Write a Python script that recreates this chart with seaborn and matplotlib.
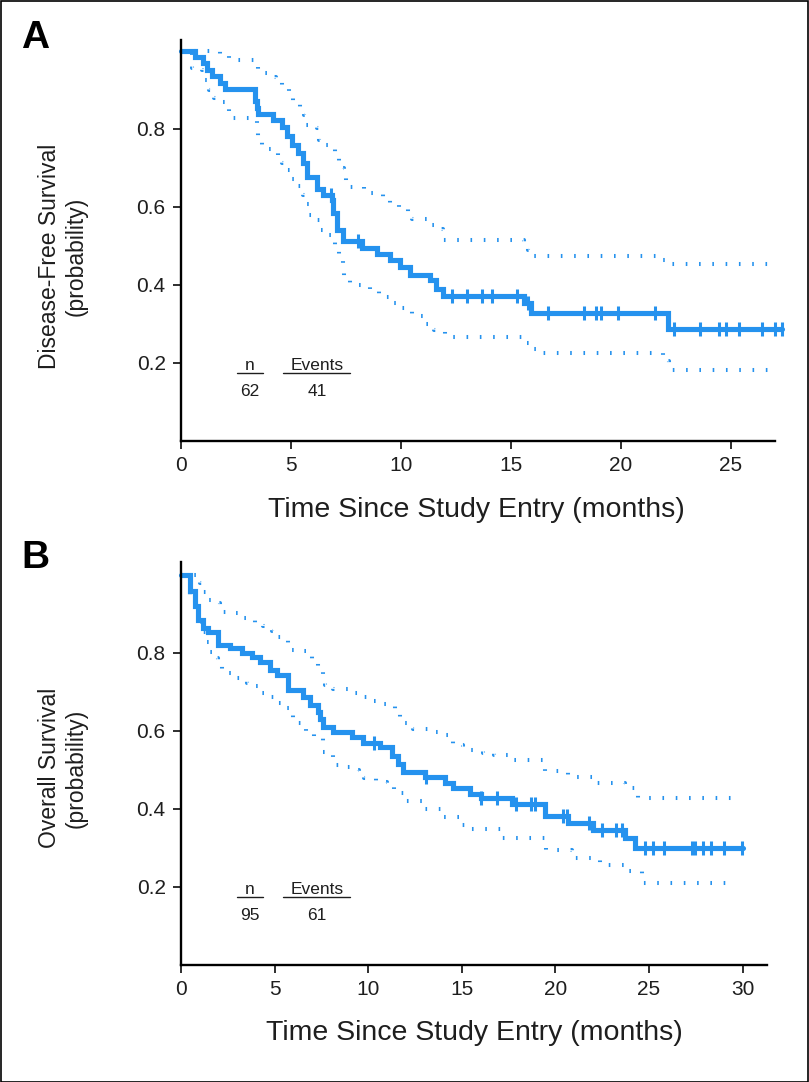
import numpy as np
import pandas as pd
import matplotlib
matplotlib.use("Agg")
import matplotlib.pyplot as plt
import seaborn as sns
from matplotlib import font_manager
from matplotlib.lines import Line2D
from matplotlib.patches import Rectangle

# ---------------- Panel A: disease-free survival ----------------
a_time = [0, 0.64, 1.01, 1.17, 1.39, 1.77, 2.0, 3.36, 3.45, 3.5, 4.2, 4.58, 4.8, 5.03, 5.33, 5.56, 5.74,
          6.17, 6.47, 6.85, 6.92, 7.1, 7.38, 8.21, 8.89, 9.5, 9.95, 10.4, 11.3, 11.6, 11.9, 15.6, 15.9,
          22.15, 27.3]
a_surv = [1.0, 0.984, 0.968, 0.952, 0.935, 0.919, 0.903, 0.871, 0.855, 0.839, 0.823, 0.806, 0.782, 0.760,
          0.738, 0.712, 0.678, 0.645, 0.631, 0.618, 0.584, 0.541, 0.514, 0.494, 0.479, 0.464, 0.447, 0.426,
          0.413, 0.39, 0.373, 0.353, 0.329, 0.287, 0.287]
a_upper_time = [0, 1.77, 2.2, 3.4, 3.5, 3.9, 4.3, 4.6, 4.9, 5.1, 5.4, 5.6, 5.7, 6.2, 6.25, 6.5, 6.9, 7.0,
                7.2, 7.4, 7.5, 8.3, 9.2, 9.5, 9.9, 10.3, 10.5, 11.4, 11.7, 11.9, 15.6, 15.75, 15.9, 21.8,
                22.0, 27.0]
a_upper = [1.0, 0.99, 0.978, 0.968, 0.943, 0.934, 0.921, 0.909, 0.891, 0.872, 0.857, 0.836, 0.81, 0.802,
           0.772, 0.759, 0.748, 0.725, 0.699, 0.678, 0.652, 0.635, 0.618, 0.608, 0.597, 0.584, 0.568, 0.554,
           0.544, 0.515, 0.505, 0.49, 0.475, 0.465, 0.453, 0.453]
a_lower_time = [0, 0.5, 0.95, 1.1, 1.25, 1.5, 1.77, 2.1, 2.2, 3.47, 3.5, 3.7, 4.4, 4.6, 4.8, 5.0, 5.3, 5.55,
                5.7, 5.8, 6.2, 6.3, 6.5, 6.9, 7.0, 7.2, 7.35, 7.4, 7.7, 8.6, 9.0, 9.5, 10.0, 10.5, 11.0,
                11.5, 12.0, 15.5, 15.9, 16.3, 21.9, 22.2, 27.0]
a_lower = [1.0, 0.957, 0.951, 0.926, 0.9, 0.879, 0.868, 0.851, 0.827, 0.80, 0.772, 0.749, 0.729, 0.712,
           0.695, 0.673, 0.654, 0.631, 0.608, 0.579, 0.567, 0.541, 0.527, 0.515, 0.486, 0.464, 0.44, 0.417,
           0.40, 0.385, 0.37, 0.355, 0.34, 0.32, 0.30, 0.285, 0.267, 0.25, 0.235, 0.225, 0.205, 0.182, 0.182]
a_censor = [6.8, 8.06, 12.3, 13.0, 13.7, 14.15, 15.25, 15.75, 16.7, 18.3, 18.85, 19.1, 19.85, 21.55, 22.4,
            23.6, 24.47, 24.77, 25.35, 26.4, 27.0, 27.3]
a_n, a_events = "62", "41"

# ---------------- Panel B: overall survival ----------------
b_time = [0, 0.48, 0.75, 0.93, 1.19, 1.46, 1.99, 2.62, 3.24, 3.77, 4.22, 4.75, 5.11, 5.73, 6.53, 6.89, 7.33,
          7.45, 7.6, 8.13, 9.11, 9.73, 10.62, 11.25, 11.6, 11.87, 13.03, 14.1, 14.54, 15.43, 16.05, 17.66,
          19.43, 20.68, 22.0, 23.7, 24.24, 30.0]
b_surv = [1.0, 0.96, 0.92, 0.885, 0.865, 0.855, 0.821, 0.812, 0.80, 0.79, 0.778, 0.756, 0.744, 0.705, 0.688,
          0.667, 0.65, 0.63, 0.611, 0.598, 0.585, 0.568, 0.56, 0.535, 0.515, 0.496, 0.483, 0.466, 0.453,
          0.438, 0.427, 0.413, 0.383, 0.365, 0.346, 0.325, 0.299, 0.299]
b_upper_time = [0, 1.01, 1.19, 1.37, 1.82, 2.08, 2.62, 3.06, 3.5, 3.95, 4.4, 4.84, 5.1, 5.55, 5.73, 6.27,
                6.71, 6.98, 7.33, 7.6, 7.69, 8.13, 9.2, 9.65, 10.09, 10.5, 11.07, 11.43, 11.7, 11.96, 12.4,
                13.47, 14.0, 14.54, 15.07, 16.14, 16.7, 17.66, 19.43, 20.68, 22.1, 23.7, 24.4, 29.9]
b_upper = [1.0, 0.979, 0.957, 0.936, 0.927, 0.906, 0.902, 0.891, 0.885, 0.872, 0.87, 0.856, 0.842, 0.833,
           0.808, 0.805, 0.792, 0.778, 0.765, 0.742, 0.718, 0.707, 0.698, 0.688, 0.678, 0.669, 0.667, 0.654,
           0.637, 0.621, 0.604, 0.598, 0.59, 0.564, 0.551, 0.543, 0.538, 0.526, 0.498, 0.483, 0.466, 0.455,
           0.429, 0.429]
b_lower_time = [0, 0.5, 0.75, 0.95, 1.2, 1.37, 1.5, 1.64, 2.0, 2.17, 3.0, 3.5, 3.9, 4.3, 4.7, 5.1, 5.5, 5.9,
                6.0, 6.7, 7.1, 7.6, 8.1, 8.6, 9.1, 9.5, 9.8, 10.4, 11.0, 11.4, 12.0, 13.0, 14.0, 15.0, 15.5,
                17.1, 19.5, 20.9, 22.4, 23.7, 24.6, 29.5]
b_lower = [1.0, 0.95, 0.906, 0.88, 0.855, 0.829, 0.803, 0.786, 0.774, 0.748, 0.735, 0.722, 0.715, 0.697,
           0.688, 0.671, 0.658, 0.645, 0.62, 0.598, 0.585, 0.547, 0.513, 0.508, 0.5, 0.491, 0.479, 0.47,
           0.457, 0.44, 0.42, 0.40, 0.38, 0.36, 0.348, 0.325, 0.295, 0.275, 0.256, 0.24, 0.209, 0.209]
b_censor = [10.3, 13.1, 16.05, 16.9, 17.9, 18.7, 18.9, 20.4, 20.6, 21.8, 22.5, 23.26, 23.58, 24.77, 25.2,
            25.8, 27.27, 27.44, 27.9, 28.33, 29.0, 29.94]
b_n, b_events = "95", "61"

x_ticks_a = [0, 5, 10, 15, 20, 25]
x_ticks_b = [0, 5, 10, 15, 20, 25, 30]
y_ticks = [0.2, 0.4, 0.6, 0.8]

BLUE = "#2592EE"
INK = "#1e1e1e"

sns.set_theme(style="ticks")
avail = {f.name for f in font_manager.fontManager.ttflist}
main_font = "Liberation Sans Narrow" if "Liberation Sans Narrow" in avail else "Liberation Sans"
plt.rcParams["font.family"] = [main_font, "DejaVu Sans"]

W, H = 809, 1082
fig = plt.figure(figsize=(W / 100, H / 100), dpi=100)


def px_axes(l, t, r, b):
    return fig.add_axes([l / W, 1 - b / H, (r - l) / W, (b - t) / H])


def fx(px):
    return px / W


def fy(py):
    return 1 - py / H


def draw_panel(ax, t, s, ut, us, lt, ls, cens, xmax, ymax, xticks):
    dot = (0, (0.4, 2.9))
    for xx, yy in [(ut, us), (lt, ls)]:
        sns.lineplot(x=xx, y=yy, ax=ax, color=BLUE, linewidth=2.9, drawstyle="steps-post",
                     estimator=None, sort=False, errorbar=None, linestyle=dot,
                     dash_capstyle="butt", clip_on=False)
    sns.lineplot(x=t, y=s, ax=ax, color=BLUE, linewidth=3.7, drawstyle="steps-post",
                 estimator=None, sort=False, errorbar=None, clip_on=False, solid_joinstyle="miter")
    t_arr = np.asarray(t)
    s_arr = np.asarray(s)
    idx = np.searchsorted(t_arr, np.asarray(cens), side="right") - 1
    cy = s_arr[idx]
    ax.plot(cens, cy, linestyle="none", marker="|", markersize=10, markeredgewidth=2.2,
            color=BLUE, clip_on=False)
    ax.set_xlim(0, xmax)
    ax.set_ylim(0, ymax)
    ax.set_xticks(xticks)
    ax.set_xticklabels([str(v) for v in xticks])
    ax.set_yticks(y_ticks)
    ax.set_yticklabels([f"{v:.1f}" for v in y_ticks])
    ax.tick_params(axis="both", direction="out", length=6, width=1.3, labelsize=15, color=INK,
                   labelcolor=INK, pad=5)
    for side in ["top", "right"]:
        ax.spines[side].set_visible(False)
    for side in ["left", "bottom"]:
        ax.spines[side].set_linewidth(1.7)
        ax.spines[side].set_color("black")
    ax.set_xlabel("")
    ax.set_ylabel("")
    ax.set_facecolor("white")


axA = px_axes(181, 40, 775, 441)
axB = px_axes(181, 562, 767, 965)

draw_panel(axA, a_time, a_surv, a_upper_time, a_upper, a_lower_time, a_lower, a_censor,
           27.0, 401 / 390, x_ticks_a)
draw_panel(axB, b_time, b_surv, b_upper_time, b_upper, b_lower_time, b_lower, b_censor,
           31.3, 403 / 390, x_ticks_b)

# axis titles
fig.text(fx(476), fy(510), "Time Since Study Entry (months)", ha="center", va="center", fontsize=20.5,
         color=INK)
fig.text(fx(474), fy(1033), "Time Since Study Entry (months)", ha="center", va="center", fontsize=20.5,
         color=INK)
fig.text(fx(63), fy(256), "Disease-Free Survival\n(probability)", ha="center", va="center", rotation=90,
         multialignment="center", fontsize=16.5, color=INK, linespacing=1.2)
fig.text(fx(63), fy(768), "Overall Survival\n(probability)", ha="center", va="center", rotation=90,
         multialignment="center", fontsize=16.5, color=INK, linespacing=1.2)

# panel letters
fig.text(fx(21), fy(48), "A", fontsize=28, fontweight="bold", family=["Liberation Sans", "DejaVu Sans"],
         ha="left", va="baseline", color="black")
fig.text(fx(21), fy(568), "B", fontsize=28, fontweight="bold", family=["Liberation Sans", "DejaVu Sans"],
         ha="left", va="baseline", color="black")


# n / Events annotation
def n_events(base_y, n_txt, ev_txt):
    fs = 12.5
    fig.text(fx(250), fy(base_y - 1), "n", ha="center", va="baseline", fontsize=fs, color=INK)
    fig.text(fx(317), fy(base_y - 1), "Events", ha="center", va="baseline", fontsize=fs, color=INK)
    for x0, x1 in [(237, 263), (283, 350)]:
        fig.add_artist(Line2D([fx(x0), fx(x1)], [fy(base_y + 2), fy(base_y + 2)],
                              transform=fig.transFigure, color=INK, lw=1.0))
    fig.text(fx(250), fy(base_y + 20), n_txt, ha="center", va="center", fontsize=fs, color=INK)
    fig.text(fx(317), fy(base_y + 20), ev_txt, ha="center", va="center", fontsize=fs, color=INK)


n_events(371, a_n, a_events)
n_events(895, b_n, b_events)

# outer frame
fig.add_artist(Rectangle((0.5 / W, 0.5 / H), 1 - 1.5 / W, 1 - 1.5 / H, transform=fig.transFigure,
                         fill=False, edgecolor="black", lw=1.2))

fig.savefig("out.png", dpi=100, facecolor="white")
